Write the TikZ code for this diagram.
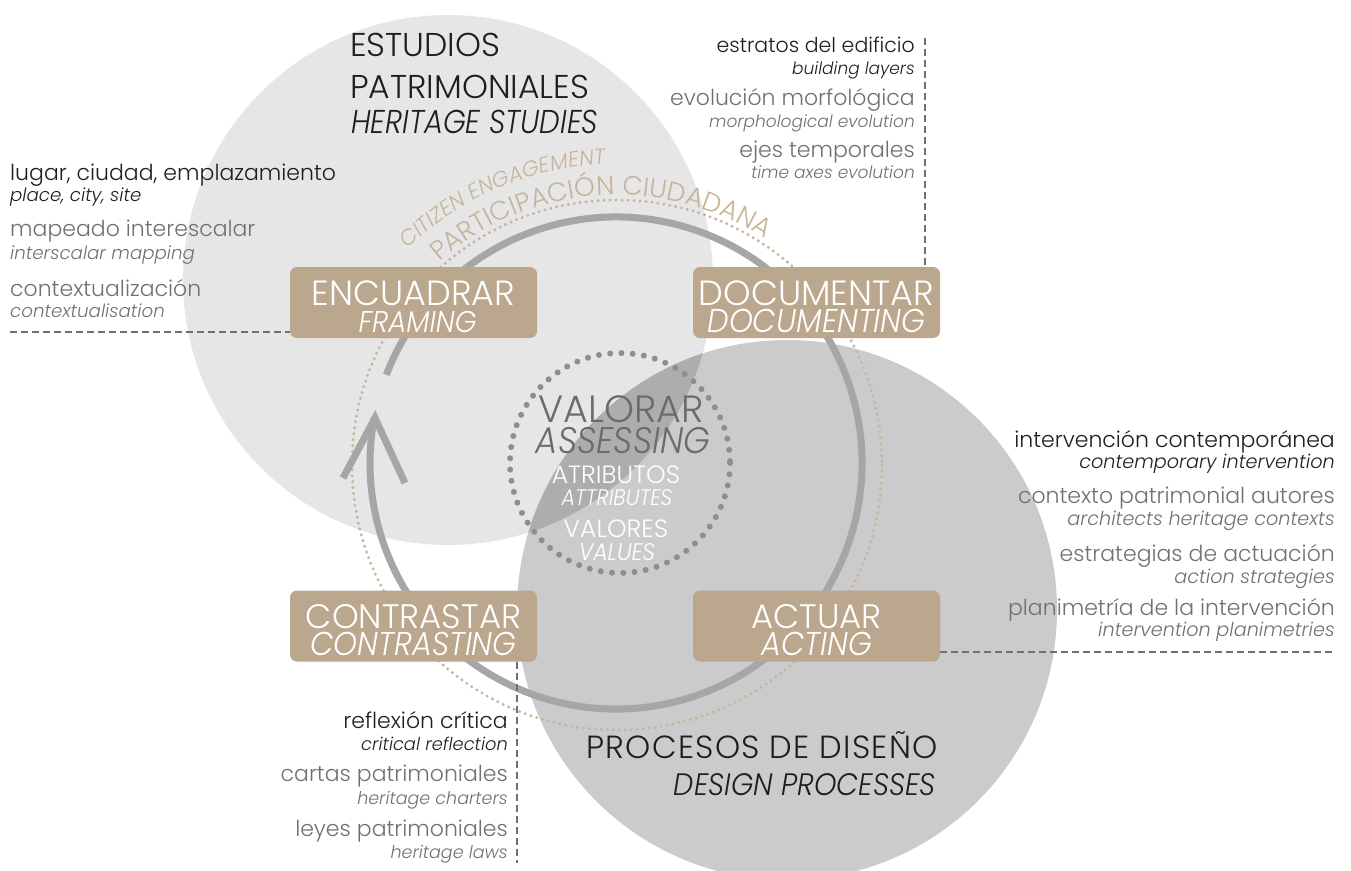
\documentclass[tikz,border=0pt]{standalone}
\usepackage{fontspec}
\setmainfont{Poppins Light}[ItalicFont={Poppins Light Italic}]
\newfontfamily\nitA{Poppins Light Italic}[FakeStretch=0.92]
\newfontfamily\nitB{Poppins Light Italic}[FakeStretch=0.88]
\newfontfamily\wideup{Poppins Light}[LetterSpace=4]
\usetikzlibrary{decorations.text}
\definecolor{circA}{HTML}{E6E6E6}
\definecolor{circB}{HTML}{CBCBCB}
\definecolor{circAB}{HTML}{ADADAD}
\definecolor{arcgray}{HTML}{A6A6A6}
\definecolor{tanbox}{HTML}{BAA78D}
\definecolor{tantext}{HTML}{C6B49B}
\definecolor{tandots}{HTML}{C8B59B}
\definecolor{dotgray}{HTML}{8E8E8E}
\definecolor{txtdark}{HTML}{1E1E1E}
\definecolor{txtgray}{HTML}{707070}
\definecolor{valgray}{HTML}{6B6B6B}
\tikzset{
  es/.style={inner sep=0pt, font=\fontsize{22}{22}\selectfont},
  en/.style={inner sep=0pt, font=\fontsize{#1}{#1}\selectfont\itshape},
  en/.default=17,
  dk/.style={text=txtdark},
  gr/.style={text=txtgray},
  boxst/.style={fill=tanbox, rounded corners=7pt, minimum width=247pt, minimum height=71pt, inner sep=0pt},
  boxt/.style={inner sep=0pt, text=white, anchor=base, font=\fontsize{35}{35}\selectfont},
  boxi/.style={inner sep=0pt, text=white, anchor=base, font=\fontsize{33}{33}\nitA},
  dline/.style={draw=txtgray, line width=1.5pt, dash pattern=on 7pt off 4pt},
  arcst/.style={draw=arcgray, line width=7pt},
  title/.style={inner sep=0pt, anchor=base west, text=txtdark, font=\fontsize{33}{33}\selectfont},
}
\begin{document}
\begin{tikzpicture}[x=1pt,y=-1pt]
\useasboundingbox (0,0) rectangle (1351,870);
\begin{scope}
\clip (0,0) rectangle (1351,870);
% circles
\fill[circA] (448,280) circle (265);
\fill[circB] (787,610) circle (270);
\begin{scope}
  \clip (448,280) circle (265);
  \fill[circAB] (787,610) circle (270);
\end{scope}
% citizen engagement dotted circle
\draw[tandots, line width=3.3pt, line cap=round, dash pattern=on 0pt off 6pt] (617,465) circle (265);
% circular arrow
\draw[arcst] (616,463) ++(-159:246) arc[start angle=-159, end angle=190.6, radius=246];
\draw[arcst, line join=miter] (343,478) -- (375,418) -- (405,483);
% inner dotted circle
\draw[dotgray, line width=6pt, line cap=round, dash pattern=on 0pt off 11.3pt] (620,463) circle (110);
% text along arc
\path[decorate, decoration={text along path, text align=center,
  text={|\fontsize{26.5}{26.5}\selectfont\color{tantext}|PARTICIPACIÓN CIUDADANA}}]
  (617,465) ++(-140:270) arc[start angle=-140, end angle=-48, radius=270];
\path[decorate, decoration={text along path, text align=left,
  text={|\fontsize{21.5}{21.5}\selectfont\itshape\color{tantext}|CITIZEN ENGAGEMENT}}]
  (617,465) ++(-134:301) arc[start angle=-134, end angle=-70, radius=301];
% central texts
\node[inner sep=0pt, anchor=base, text=valgray, font=\fontsize{38}{38}\selectfont] (val1) at (621,422) {VALORAR};
\node[inner sep=0pt, anchor=base, text=valgray, font=\fontsize{37}{37}\nitA] (val2) at (623,453) {ASSESSING};
\node[inner sep=0pt, anchor=base, text=white, font=\fontsize{25}{25}\selectfont] (val3) at (616,483) {ATRIBUTOS};
\node[inner sep=0pt, anchor=base, text=white, font=\fontsize{22.5}{22.5}\nitA] (val4) at (617,505) {ATTRIBUTES};
\node[inner sep=0pt, anchor=base, text=white, font=\fontsize{25}{25}\selectfont] (val5) at (616,537) {VALORES};
\node[inner sep=0pt, anchor=base, text=white, font=\fontsize{24}{24}\nitA] (val6) at (617,560) {VALUES};
% titles
\node[title] (t1) at (350,56) {ESTUDIOS};
\node[title] (t2) at (350,98) {PATRIMONIALES};
\node[title, font=\fontsize{33}{33}\nitB] (t3) at (351,133) {HERITAGE STUDIES};
\node[inner sep=0pt, anchor=base east, text=txtdark, font=\fontsize{32}{32}\wideup] (p1) at (938,758) {PROCESOS DE DISEÑO};
\node[inner sep=0pt, anchor=base east, text=txtdark, font=\fontsize{31}{31}\nitA] (p2) at (936,795) {DESIGN PROCESSES};
% boxes
\node[boxst] (enc) at (413.5,302.5) {};
\node[boxst] (doc) at (816.5,302.5) {};
\node[boxst] (con) at (413.5,626) {};
\node[boxst] (act) at (816.5,626) {};
\node[boxt] (enc1) at (enc.center |- 0,305) {ENCUADRAR};
\node[boxi, font=\fontsize{30}{30}\nitA] (enc2) at ([xshift=4pt]enc.center |- 0,332) {FRAMING};
\node[boxt] (doc1) at (doc.center |- 0,305) {DOCUMENTAR};
\node[boxi] (doc2) at (doc.center |- 0,332) {DOCUMENTING};
\node[boxt, font=\fontsize{34}{34}\selectfont] (con1) at (con.center |- 0,628) {CONTRASTAR};
\node[boxi] (con2) at (con.center |- 0,655) {CONTRASTING};
\node[boxt, font=\fontsize{34}{34}\selectfont] (act1) at (act.center |- 0,628) {ACTUAR};
\node[boxi] (act2) at (act.center |- 0,655) {ACTING};
% left block
\node[es, dk, anchor=base west] (l1) at (10,180) {lugar, ciudad, emplazamiento};
\node[en=18.2, dk, anchor=base west] (l2) at (10,201) {place, city, site};
\node[es, gr, anchor=base west] (l3) at (10,236) {mapeado interescalar};
\node[en=18.2, gr, anchor=base west] (l4) at (10,259) {interscalar mapping};
\node[es, gr, anchor=base west] (l5) at (10,296) {contextualización};
\node[en=18.2, gr, anchor=base west] (l6) at (10,317) {contextualisation};
\coordinate (dl) at (10,332);
\draw[dline] (dl) -- (dl -| enc.west);
% top right block
\node[es, dk, anchor=base east, font=\fontsize{20.5}{20.5}\selectfont] (r1) at (915,52) {estratos del edificio};
\node[en, dk, anchor=base east] (r2) at (915,74) {building layers};
\node[es, gr, anchor=base east] (r3) at (915,105) {evolución morfológica};
\node[en, gr, anchor=base east] (r4) at (915,127) {morphological evolution};
\node[es, gr, anchor=base east] (r5) at (915,157) {ejes temporales};
\node[en, gr, anchor=base east] (r6) at (915,178) {time axes evolution};
\coordinate (dt) at (925,38);
\draw[dline] (dt) -- (dt |- doc.north);
% right block
\node[es, dk, anchor=base east] (q1) at (1335,447) {intervención contemporánea};
\node[en=19.2, dk, anchor=base east] (q2) at (1335,468) {contemporary intervention};
\node[es, gr, anchor=base east] (q3) at (1335,503) {contexto patrimonial autores};
\node[en=19.2, gr, anchor=base east] (q4) at (1335,525) {architects heritage contexts};
\node[es, gr, anchor=base east] (q5) at (1335,561) {estrategias de actuación};
\node[en=19.2, gr, anchor=base east] (q6) at (1335,583) {action strategies};
\node[es, gr, anchor=base east] (q7) at (1335,615) {planimetría de la intervención};
\node[en=19.2, gr, anchor=base east] (q8) at (1335,636) {intervention planimetries};
\coordinate (dr) at (1335,652);
\draw[dline] (dr -| act.east) -- (dr);
% bottom left block
\node[es, dk, anchor=base east] (b1) at (508,728) {reflexión crítica};
\node[en=17.8, dk, anchor=base east] (b2) at (508,750) {critical reflection};
\node[es, gr, anchor=base east] (b3) at (508,781) {cartas patrimoniales};
\node[en=17.5, gr, anchor=base east] (b4) at (508,804) {heritage charters};
\node[es, gr, anchor=base east] (b5) at (508,836) {leyes patrimoniales};
\node[en=17.5, gr, anchor=base east] (b6) at (508,858) {heritage laws};
\coordinate (db) at (517,863);
\draw[dline] (con.south -| db) -- (db);
\end{scope}
\end{tikzpicture}
\end{document}
